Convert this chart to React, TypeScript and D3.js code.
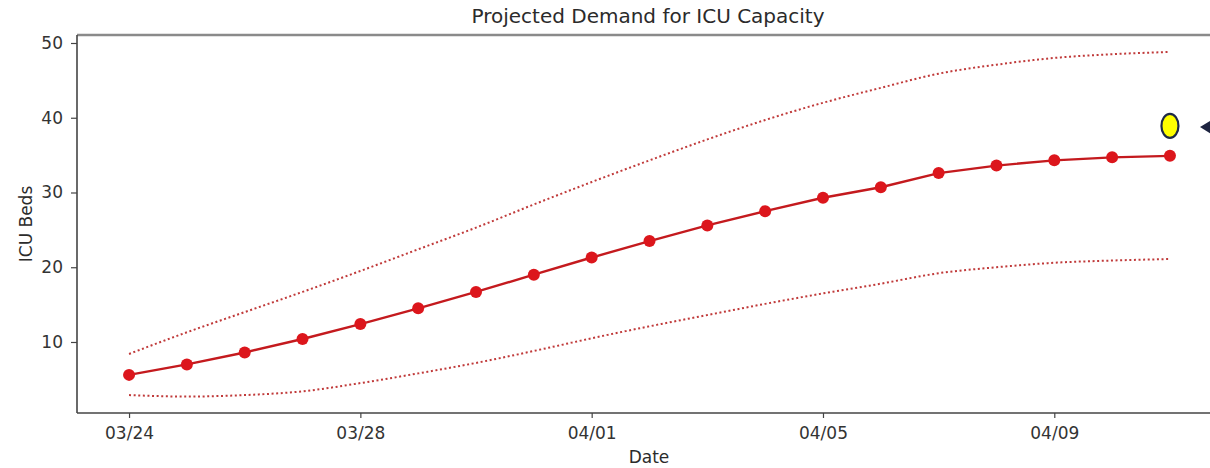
import { useEffect, useRef } from 'react';
import * as d3 from 'd3';

// dates shown on the x axis, one point per day
const dates = [
  '03/24', '03/25', '03/26', '03/27', '03/28', '03/29', '03/30', '03/31',
  '04/01', '04/02', '04/03', '04/04', '04/05', '04/06', '04/07', '04/08',
  '04/09', '04/10', '04/11',
];
const xTickLabels = ['03/24', '03/28', '04/01', '04/05', '04/09'];
const yTicks = [10, 20, 30, 40, 50];

// projected ICU beds (median) and the dotted bounds
const projected = [
  5.6, 7.0, 8.6, 10.4, 12.4, 14.5, 16.7, 19.0, 21.3, 23.5,
  25.6, 27.5, 29.3, 30.7, 32.6, 33.6, 34.3, 34.7, 34.9,
];
const upper = [
  8.4, 11.3, 14.0, 16.7, 19.5, 22.4, 25.3, 28.4, 31.4, 34.3,
  37.1, 39.7, 42.0, 44.0, 45.9, 47.1, 48.0, 48.5, 48.8,
];
const lower = [
  2.9, 2.7, 2.9, 3.4, 4.5, 5.8, 7.2, 8.8, 10.5, 12.1,
  13.6, 15.1, 16.5, 17.8, 19.2, 20.0, 20.6, 20.9, 21.1,
];

// highlighted marker next to the last day
const markerDate = '04/11';
const markerValue = 38.9;

export default function App() {
  const svgRef = useRef<SVGSVGElement | null>(null);

  useEffect(() => {
    document.body.style.margin = '0';
    if (!svgRef.current) return;

    const width = 1210;
    const height = 468;
    const margin = { top: 35, left: 77, bottom: 413 };
    const font = 'DejaVu Sans, sans-serif';

    const svg = d3.select(svgRef.current)
      .attr('width', width)
      .attr('height', height);
    svg.selectAll('*').remove();

    const idx = (d: string) => dates.indexOf(d);

    const x = d3.scaleLinear()
      .domain([-0.9, dates.length - 1 + 0.9])
      .range([margin.left, 1222]);

    const y = d3.scaleLinear()
      .domain([0.5, 51.07])
      .range([margin.bottom, margin.top]);

    // spines
    svg.append('line')
      .attr('x1', margin.left).attr('x2', width)
      .attr('y1', margin.top).attr('y2', margin.top)
      .attr('stroke', '#8a8a8a').attr('stroke-width', 2.5);
    svg.append('line')
      .attr('x1', margin.left).attr('x2', margin.left)
      .attr('y1', margin.top).attr('y2', margin.bottom)
      .attr('stroke', '#444').attr('stroke-width', 1.6);
    svg.append('line')
      .attr('x1', margin.left).attr('x2', width)
      .attr('y1', margin.bottom).attr('y2', margin.bottom)
      .attr('stroke', '#444').attr('stroke-width', 1.6);

    const yAxis = svg.append('g')
      .attr('transform', `translate(${margin.left},0)`)
      .call(d3.axisLeft(y).tickValues(yTicks).tickSize(6).tickPadding(8));
    const xAxis = svg.append('g')
      .attr('transform', `translate(0,${margin.bottom})`)
      .call(d3.axisBottom(x)
        .tickValues(xTickLabels.map(idx))
        .tickFormat(d => dates[+d])
        .tickSize(5).tickPadding(9));

    [yAxis, xAxis].forEach(g => {
      g.select('.domain').remove();
      g.selectAll('line').attr('stroke', '#444').attr('stroke-width', 1.2);
      g.selectAll('text')
        .attr('fill', '#333')
        .style('font-family', font)
        .style('font-size', '17px');
    });

    // bounds
    const smooth = d3.line<number>()
      .x((_, i) => x(i))
      .y(d => y(d))
      .curve(d3.curveMonotoneX);

    [upper, lower].forEach(series => {
      svg.append('path')
        .attr('d', smooth(series))
        .attr('fill', 'none')
        .attr('stroke', '#c03a3a')
        .attr('stroke-width', 2)
        .attr('stroke-dasharray', '2,2.6');
    });

    // projection
    const straight = d3.line<number>()
      .x((_, i) => x(i))
      .y(d => y(d));

    svg.append('path')
      .attr('d', straight(projected))
      .attr('fill', 'none')
      .attr('stroke', '#c41a1e')
      .attr('stroke-width', 2.4);

    svg.selectAll('.pt')
      .data(projected)
      .join('circle')
      .attr('class', 'pt')
      .attr('cx', (_, i) => x(i))
      .attr('cy', d => y(d))
      .attr('r', 6)
      .attr('fill', '#dc161c');

    // yellow marker and arrow head
    const mx = x(idx(markerDate));
    const my = y(markerValue);
    svg.append('ellipse')
      .attr('cx', mx).attr('cy', my)
      .attr('rx', 8.5).attr('ry', 12)
      .attr('fill', '#ffff00')
      .attr('stroke', '#1e2a48')
      .attr('stroke-width', 2.2);

    const ax = x(idx(markerDate) + 0.52);
    const ay = y(markerValue - 0.15);
    svg.append('path')
      .attr('d', `M${ax},${ay} L${ax + 13},${ay - 8} L${ax + 13},${ay + 8} Z`)
      .attr('fill', '#1e2440');

    // labels
    svg.append('text')
      .attr('x', 648).attr('y', 23)
      .attr('text-anchor', 'middle')
      .attr('fill', '#2b2b2b')
      .style('font-family', font)
      .style('font-size', '20px')
      .text('Projected Demand for ICU Capacity');

    svg.append('text')
      .attr('x', 649).attr('y', 463)
      .attr('text-anchor', 'middle')
      .attr('fill', '#2b2b2b')
      .style('font-family', font)
      .style('font-size', '17px')
      .text('Date');

    svg.append('text')
      .attr('transform', `translate(32,${(margin.top + margin.bottom) / 2}) rotate(-90)`)
      .attr('text-anchor', 'middle')
      .attr('fill', '#2b2b2b')
      .style('font-family', font)
      .style('font-size', '17px')
      .text('ICU Beds');
  }, []);

  return <svg ref={svgRef} style={{ display: 'block' }}></svg>;
}
